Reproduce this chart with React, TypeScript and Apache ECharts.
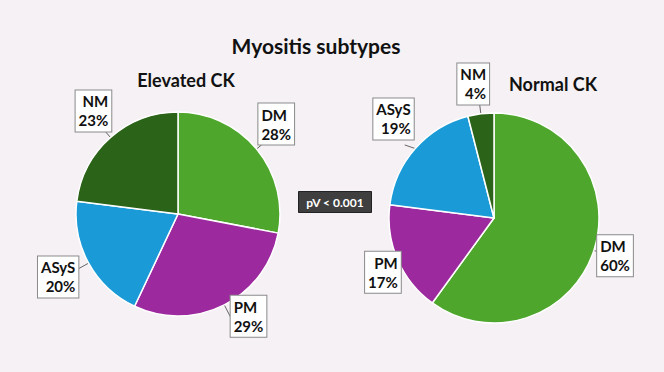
import React, { useEffect, useRef } from "react";
import * as echarts from "echarts";

const categories = ["DM", "PM", "ASyS", "NM"];
const elevatedCK = [28, 29, 20, 23];
const normalCK = [60, 17, 19, 4];
const colors = ["#4ea72c", "#9c2a9e", "#1a9bd7", "#2b6419"];
// label nudges (per series, per category) to mimic the callout placement
const labelNudge = [
  [[-14, -16], [-5, -1], [7, 7], [15, -16]],
  [[-15, 1], [21, 7], [14, -26], [15, -16]],
];

export default function App() {
  const ref = useRef<HTMLDivElement>(null);
  useEffect(() => {
    document.body.style.margin = "0";
    const chart = echarts.init(ref.current!, null, { renderer: "svg" });
    const font = "Lato, 'Open Sans', sans-serif";
    const mk = (vals: number[]) =>
      categories.map((c, i) => ({ name: c, value: vals[i], itemStyle: { color: colors[i] } }));
    const label = {
      show: true,
      position: "outside",
      formatter: "{b}\n{d}%",
      color: "#111",
      fontWeight: "bold",
      fontSize: 15,
      lineHeight: 19,
      fontFamily: font,
      backgroundColor: "#fff",
      borderColor: "#8a8a8a",
      borderWidth: 1,
      padding: [2, 3, 1, 3],
      align: "center",
    };
    const labelLine = { show: true, length: 14, length2: 0, lineStyle: { color: "#666", width: 1 } };
    const labelLayout = (p: any) => {
      const n = labelNudge[p.seriesIndex][p.dataIndex];
      return { dx: n[0], dy: n[1] };
    };
    chart.setOption({
      animation: false,
      backgroundColor: "#f5f1f5",
      title: [
        { text: "Myositis subtypes", left: 311, top: 30, textAlign: "center", textStyle: { fontFamily: font, fontSize: 21, fontWeight: "bold", color: "#111" } },
        { text: "Elevated CK", left: 181, top: 66, textAlign: "center", textStyle: { fontFamily: font, fontSize: 18, fontWeight: "bold", color: "#111" } },
        { text: "Normal CK", left: 548, top: 70, textAlign: "center", textStyle: { fontFamily: font, fontSize: 18, fontWeight: "bold", color: "#111" } },
      ],
      graphic: [
        {
          type: "group",
          left: 298,
          top: 191,
          children: [
            { type: "rect", shape: { x: 0, y: 0, width: 73, height: 21 }, style: { fill: "#3f3f3f", stroke: "#222", lineWidth: 1 } },
            { type: "text", x: 36.5, y: 10.5, style: { text: "pV < 0.001", fill: "#fff", fontFamily: font, fontWeight: "bold", fontSize: 12, align: "center", verticalAlign: "middle" } },
          ],
        },
      ],
      series: [
        {
          type: "pie",
          center: [178, 214],
          radius: 102,
          startAngle: 90,
          clockwise: true,
          data: mk(elevatedCK),
          label,
          labelLine,
          labelLayout,
          itemStyle: { borderColor: "#fff", borderWidth: 1.5 },
        },
        {
          type: "pie",
          center: [494, 218],
          radius: 105,
          startAngle: 90,
          clockwise: true,
          data: mk(normalCK),
          label,
          labelLine,
          labelLayout,
          itemStyle: { borderColor: "#fff", borderWidth: 1.5 },
        },
      ],
    });
    return () => chart.dispose();
  }, []);
  return <div ref={ref} style={{ width: 664, height: 372 }} />;
}
